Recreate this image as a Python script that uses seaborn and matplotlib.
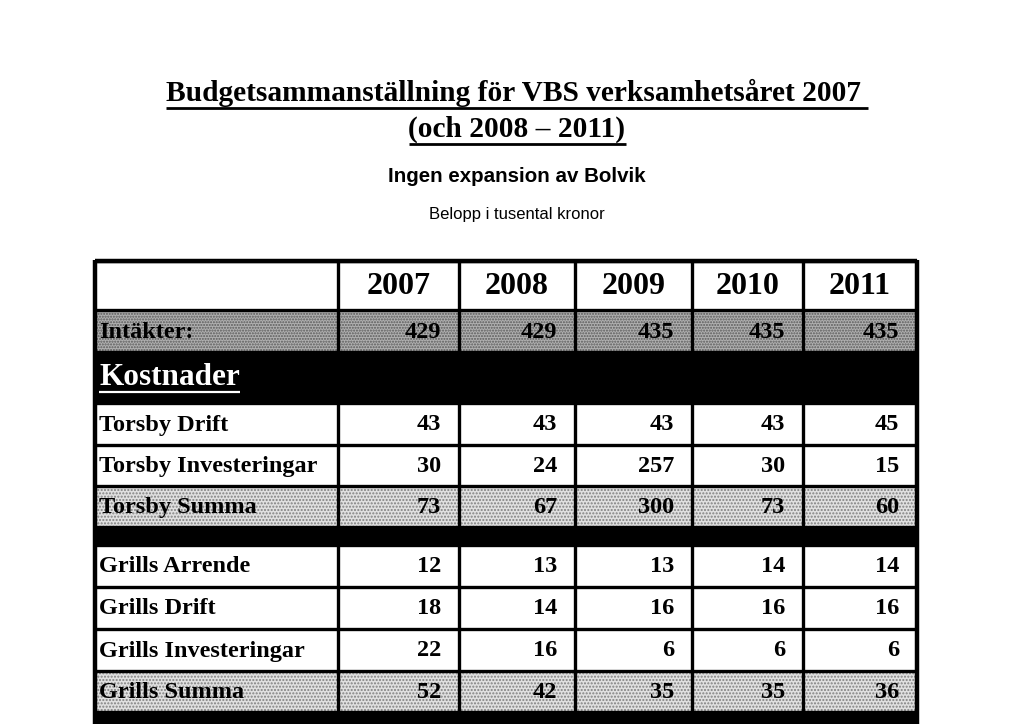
import matplotlib.pyplot as plt
import seaborn as sns

# Budget table values (tusental kronor)
years = ['2007', '2008', '2009', '2010', '2011']
intakter = [429, 429, 435, 435, 435]
torsby_drift = [43, 43, 43, 43, 45]
torsby_inv = [30, 24, 257, 30, 15]
torsby_summa = [73, 67, 300, 73, 60]
grills_arrende = [12, 13, 13, 14, 14]
grills_drift = [18, 14, 16, 16, 16]
grills_inv = [22, 16, 6, 6, 6]
grills_summa = [52, 42, 35, 35, 36]

title1 = 'Budgetsammanställning för VBS verksamhetsåret 2007 '
title2 = '(och 2008 – 2011)'
subtitle = 'Ingen expansion av Bolvik'
unit_note = 'Belopp i tusental kronor'

# rows: (label, values, style)
rows = [
    ('', years, 'header'),
    ('Intäkter:', intakter, 'dense'),
    ('Kostnader', None, 'black'),
    ('Torsby Drift', torsby_drift, 'white'),
    ('Torsby Investeringar', torsby_inv, 'white'),
    ('Torsby Summa', torsby_summa, 'dots'),
    ('', None, 'gap'),
    ('Grills Arrende', grills_arrende, 'white'),
    ('Grills Drift', grills_drift, 'white'),
    ('Grills Investeringar', grills_inv, 'white'),
    ('Grills Summa', grills_summa, 'dots'),
    ('', None, 'gap'),
]

# layout in pixels
col_edges = [95, 338, 459, 575, 692, 803, 917]
row_edges = [261, 310, 352, 403, 445, 486, 527, 545, 587, 629, 671, 712, 760]

sns.set_theme(style='white')
plt.rcParams['text.color'] = 'black'
serif = ['Liberation Serif', 'DejaVu Serif']
sans = ['Liberation Sans', 'DejaVu Sans']

fig = plt.figure(figsize=(10.24, 7.24), dpi=100)
ax = fig.add_axes([0, 0, 1, 1])
ax.set_xlim(0, 1024)
ax.set_ylim(724, 0)
ax.axis('off')

styles = {
    'header': dict(color='white'),
    'white': dict(color='white'),
    'dense': dict(color='#b0b0b0', hatch='......', edgecolor='#5a5a5a'),
    'dots': dict(color='#e0e0e0', hatch='.....', edgecolor='#808080'),
    'black': dict(color='black'),
    'gap': dict(color='black'),
}

left, right = col_edges[0], col_edges[-1]
for i, (label, vals, st) in enumerate(rows):
    top, bot = row_edges[i], row_edges[i + 1]
    kw = dict(styles[st])
    z = 3 if st in ('black', 'gap') else 1
    ax.barh((top + bot) / 2, right - left, left=left, height=bot - top,
            linewidth=0, zorder=z, **kw)

# grid lines
ax.vlines(col_edges[1:-1], row_edges[0], row_edges[-2], color='black', lw=2.4, zorder=2)
ax.hlines(row_edges[:-1], left, right, color='black', lw=2.4, zorder=2)
ax.vlines([left, right], row_edges[0] - 1.5, 760, color='black', lw=3.2, zorder=4)
ax.hlines(row_edges[0], left, right, color='black', lw=3.2, zorder=4)

# cell texts
for i, (label, vals, st) in enumerate(rows):
    yc = (row_edges[i] + row_edges[i + 1]) / 2
    if st == 'header':
        for j, v in enumerate(vals):
            xc = (col_edges[j + 1] + col_edges[j + 2]) / 2
            ax.text(xc, yc + 1, v, ha='center', va='center', fontsize=23,
                    fontweight='bold', family=serif, zorder=5)
        continue
    if st == 'black':
        kost = ax.text(left + 4, yc, label, ha='left', va='center', fontsize=22.5,
                       fontweight='bold', family=serif, color='white', zorder=5)
        continue
    if vals is None:
        continue
    ax.text(left + 4, yc + 1, label, ha='left', va='center', fontsize=17.5,
            fontweight='bold', family=serif, zorder=5)
    for j, v in enumerate(vals):
        ax.text(col_edges[j + 2] - 18, yc + 1, str(v), ha='right', va='center',
                fontsize=17.5, fontweight='bold', family=serif, zorder=5)

# titles
t1 = ax.text(517, 93, title1, ha='center', va='center', fontsize=21.2,
             fontweight='bold', family=serif)
t2 = ax.text(517, 129, title2, ha='center', va='center', fontsize=21.2,
             fontweight='bold', family=serif)
ax.text(517, 176, subtitle, ha='center', va='center', fontsize=14.8,
        fontweight='bold', family=sans)
ax.text(517, 215, unit_note, ha='center', va='center', fontsize=12, family=sans)

# underline titles and "Kostnader"
fig.canvas.draw()
renderer = fig.canvas.get_renderer()
inv = ax.transData.inverted()
for t, dy, col, lw in [(t1, 15, 'black', 2.0), (t2, 15, 'black', 2.0), (kost, 14, 'white', 1.6)]:
    bb = t.get_window_extent(renderer)
    (x0, _), (x1, _) = inv.transform([[bb.x0, bb.y0], [bb.x1, bb.y1]])
    yy = t.get_position()[1] + dy
    ax.plot([x0, x1], [yy, yy], color=col, lw=lw, zorder=6, solid_capstyle='butt')

fig.savefig('out.png', dpi=100)
